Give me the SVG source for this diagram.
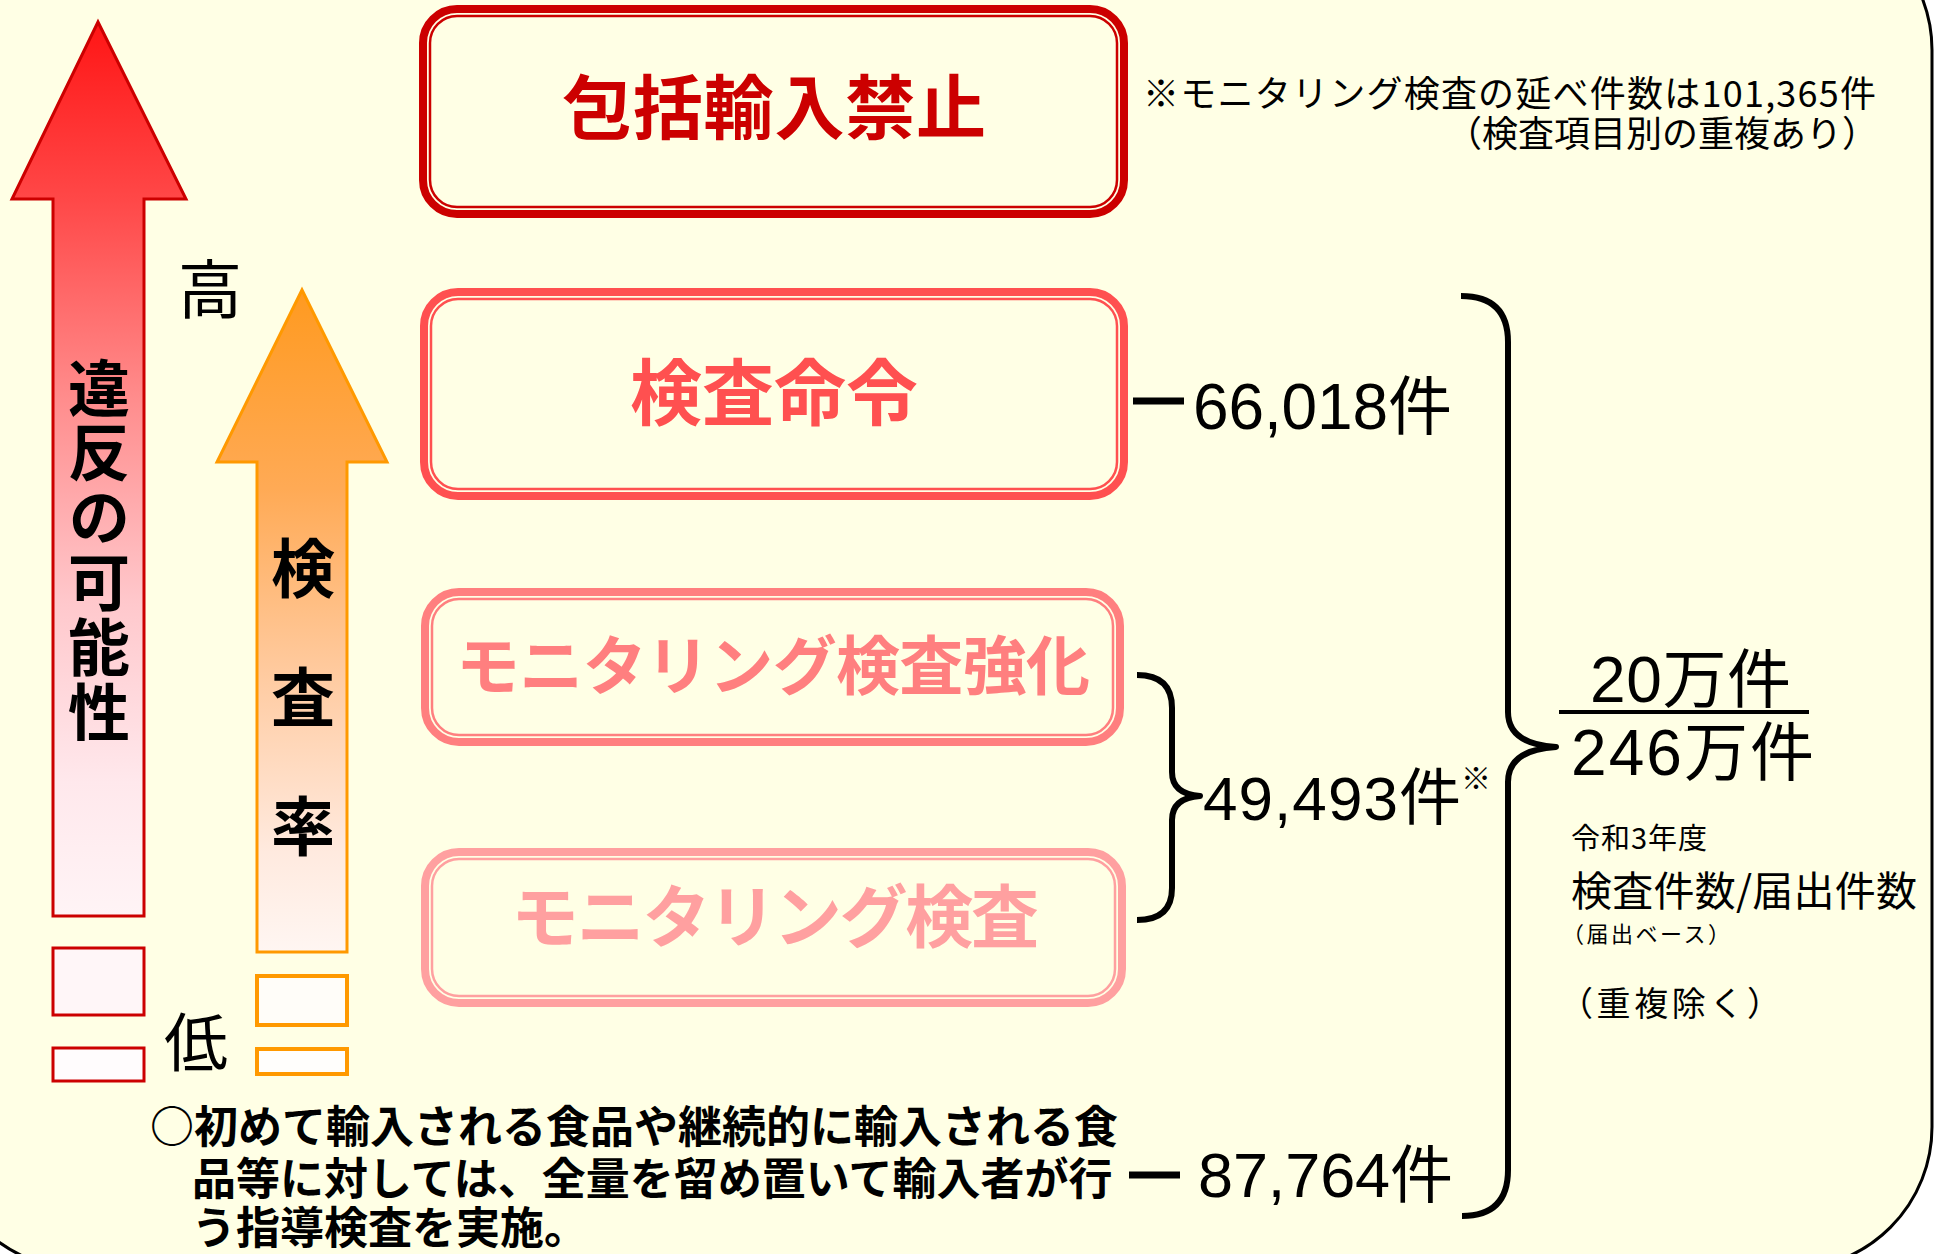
<svg xmlns="http://www.w3.org/2000/svg" width="1941" height="1254" viewBox="0 0 1941 1254">
<defs>
<linearGradient id="gRed" x1="0" y1="0" x2="0" y2="1">
<stop offset="0" stop-color="#FF1515"/>
<stop offset="0.2" stop-color="#FF4848"/>
<stop offset="0.42" stop-color="#FF8C8C"/>
<stop offset="0.65" stop-color="#FFC8CC"/>
<stop offset="0.85" stop-color="#FFE8EC"/>
<stop offset="1" stop-color="#FFF4F6"/>
</linearGradient>
<linearGradient id="gOrange" x1="0" y1="0" x2="0" y2="1">
<stop offset="0" stop-color="#FF9A20"/>
<stop offset="0.3" stop-color="#FFAA55"/>
<stop offset="0.6" stop-color="#FFCDA5"/>
<stop offset="0.85" stop-color="#FFEADF"/>
<stop offset="1" stop-color="#FFF6F2"/>
</linearGradient>
<style>
.jp{font-family:"Noto Sans CJK JP","Noto Sans CJK SC",sans-serif}
.num{font-family:"Liberation Sans","Noto Sans CJK JP",sans-serif}
.b{font-weight:bold}
.vt{writing-mode:vertical-rl}
.outer{fill:none;stroke-width:8}
.inner{fill:none;stroke-width:2.5}
.brace{fill:none;stroke:#000;stroke-width:6;stroke-linecap:butt;stroke-linejoin:round}
.dash{stroke:#000;stroke-width:7}
</style>
</defs>
<rect x="0" y="0" width="1941" height="1254" fill="#FFFFFF"/>
<rect x="-60" y="-92" width="1992" height="1361" rx="142" ry="142" fill="#FFFFE5" stroke="#000" stroke-width="3"/>

<g id="arrow-violation">
<polygon points="98,22 186,199 144,199 144,916 53,916 53,199 12,199" fill="url(#gRed)" stroke="#CC0000" stroke-width="3"/>
<rect x="53" y="948" width="91" height="67" fill="#FFF6F8" stroke="#CC0000" stroke-width="3"/>
<rect x="53" y="1048" width="91" height="33" fill="#FFFCFD" stroke="#CC0000" stroke-width="3"/>
<text class="jp b vt" font-size="62" x="99" y="357" letter-spacing="2.8" fill="#000">違反の可能性</text>
</g>

<g id="arrow-rate">
<polygon points="302,290 387,462 347,462 347,952 257,952 257,462 217,462" fill="url(#gOrange)" stroke="#FF9900" stroke-width="3"/>
<rect x="257" y="976" width="90" height="49" fill="#FFFDF9" stroke="#FF9900" stroke-width="4"/>
<rect x="257" y="1049" width="90" height="25" fill="#FFFEFC" stroke="#FF9900" stroke-width="4"/>
<text class="jp b vt" font-size="64" x="303" y="536" letter-spacing="65" fill="#000">検査率</text>
</g>

<g id="label-high"><text class="jp" font-size="64" x="210" y="313" text-anchor="middle">高</text></g>
<g id="label-low"><text class="jp" font-size="64" x="196" y="1066" text-anchor="middle">低</text></g>

<g id="box-ban">
<rect class="outer" x="423" y="9" width="701" height="205" rx="34" stroke="#CC0000"/>
<rect class="inner" x="430" y="16" width="687" height="191" rx="27" stroke="#CC0000"/>
<text class="jp b" font-size="70" x="774" y="134" text-anchor="middle" fill="#CC0000" textLength="424">包括輸入禁止</text>
</g>

<g id="box-order">
<rect class="outer" x="424" y="292" width="700" height="204" rx="34" stroke="#FF5050"/>
<rect class="inner" x="431" y="299" width="686" height="190" rx="27" stroke="#FF5050"/>
<text class="jp b" font-size="72" x="774" y="419" text-anchor="middle" fill="#FF5050" textLength="288">検査命令</text>
</g>

<g id="box-monitoring-strong">
<rect class="outer" x="425" y="592" width="695" height="150" rx="34" stroke="#FF7F7F"/>
<rect class="inner" x="432" y="599" width="681" height="136" rx="27" stroke="#FF7F7F"/>
<text class="jp b" font-size="64" x="773" y="689" text-anchor="middle" fill="#FF7F7F" textLength="634">モニタリング検査強化</text>
</g>

<g id="box-monitoring">
<rect class="outer" x="425" y="852" width="697" height="151" rx="34" stroke="#FFA0A0"/>
<rect class="inner" x="432" y="859" width="683" height="137" rx="27" stroke="#FFA0A0"/>
<text class="jp b" font-size="68" x="775" y="942" text-anchor="middle" fill="#FFA0A0" textLength="528">モニタリング検査</text>
</g>

<g id="connectors">
<line class="dash" x1="1133" y1="401" x2="1184" y2="401"/>
<line class="dash" x1="1129" y1="1175" x2="1180" y2="1175" stroke-width="6"/>
<path class="brace" d="M1137,675 Q1172,675 1172,708 L1172,772 Q1172,794 1200,796 Q1172,798 1172,820 L1172,888 Q1172,920 1137,920"/>
<path class="brace" d="M1461,296 Q1508,296 1508,342 L1508,712 Q1508,744 1556,747 Q1508,750 1508,782 L1508,1170 Q1508,1216 1462,1216"/>
</g>

<g id="count-order"><text class="num" font-size="64" x="1193" y="429" textLength="259">66,018件</text></g>
<g id="count-monitoring">
<text class="num" font-size="62" x="1203" y="820" textLength="258">49,493件</text>
<text class="jp" font-size="30" x="1461" y="789">※</text>
</g>
<g id="count-guidance"><text class="num" font-size="63" x="1198" y="1197" textLength="255">87,764件</text></g>

<g id="note-top">
<text class="jp" font-size="36" x="1143" y="107" textLength="733">※モニタリング検査の延べ件数は101,365件</text>
<text class="jp" font-size="36" x="1446" y="147">（検査項目別の重複あり）</text>
</g>

<g id="ratio">
<text class="num" font-size="64" x="1590" y="702" textLength="201">20万件</text>
<line x1="1559" y1="712" x2="1809" y2="712" stroke="#000" stroke-width="4"/>
<text class="num" font-size="64" x="1571" y="775" textLength="243">246万件</text>
<text class="jp" font-size="29" x="1571" y="849" textLength="136">令和3年度</text>
<text class="jp" font-size="41" x="1571" y="906" textLength="346">検査件数/届出件数</text>
<text class="jp" font-size="22" x="1562" y="942" textLength="168">（届出ベース）</text>
<text class="jp" font-size="34" x="1559" y="1016" textLength="222">（重複除く）</text>
</g>

<g id="note-bottom">
<text class="jp b" font-size="44" fill="#000">
<tspan x="150" y="1143">○初めて輸入される食品や継続的に輸入される食</tspan>
<tspan x="192" y="1195">品等に対しては、全量を留め置いて輸入者が行</tspan>
<tspan x="192" y="1244">う指導検査を実施。</tspan>
</text>
</g>
</svg>
